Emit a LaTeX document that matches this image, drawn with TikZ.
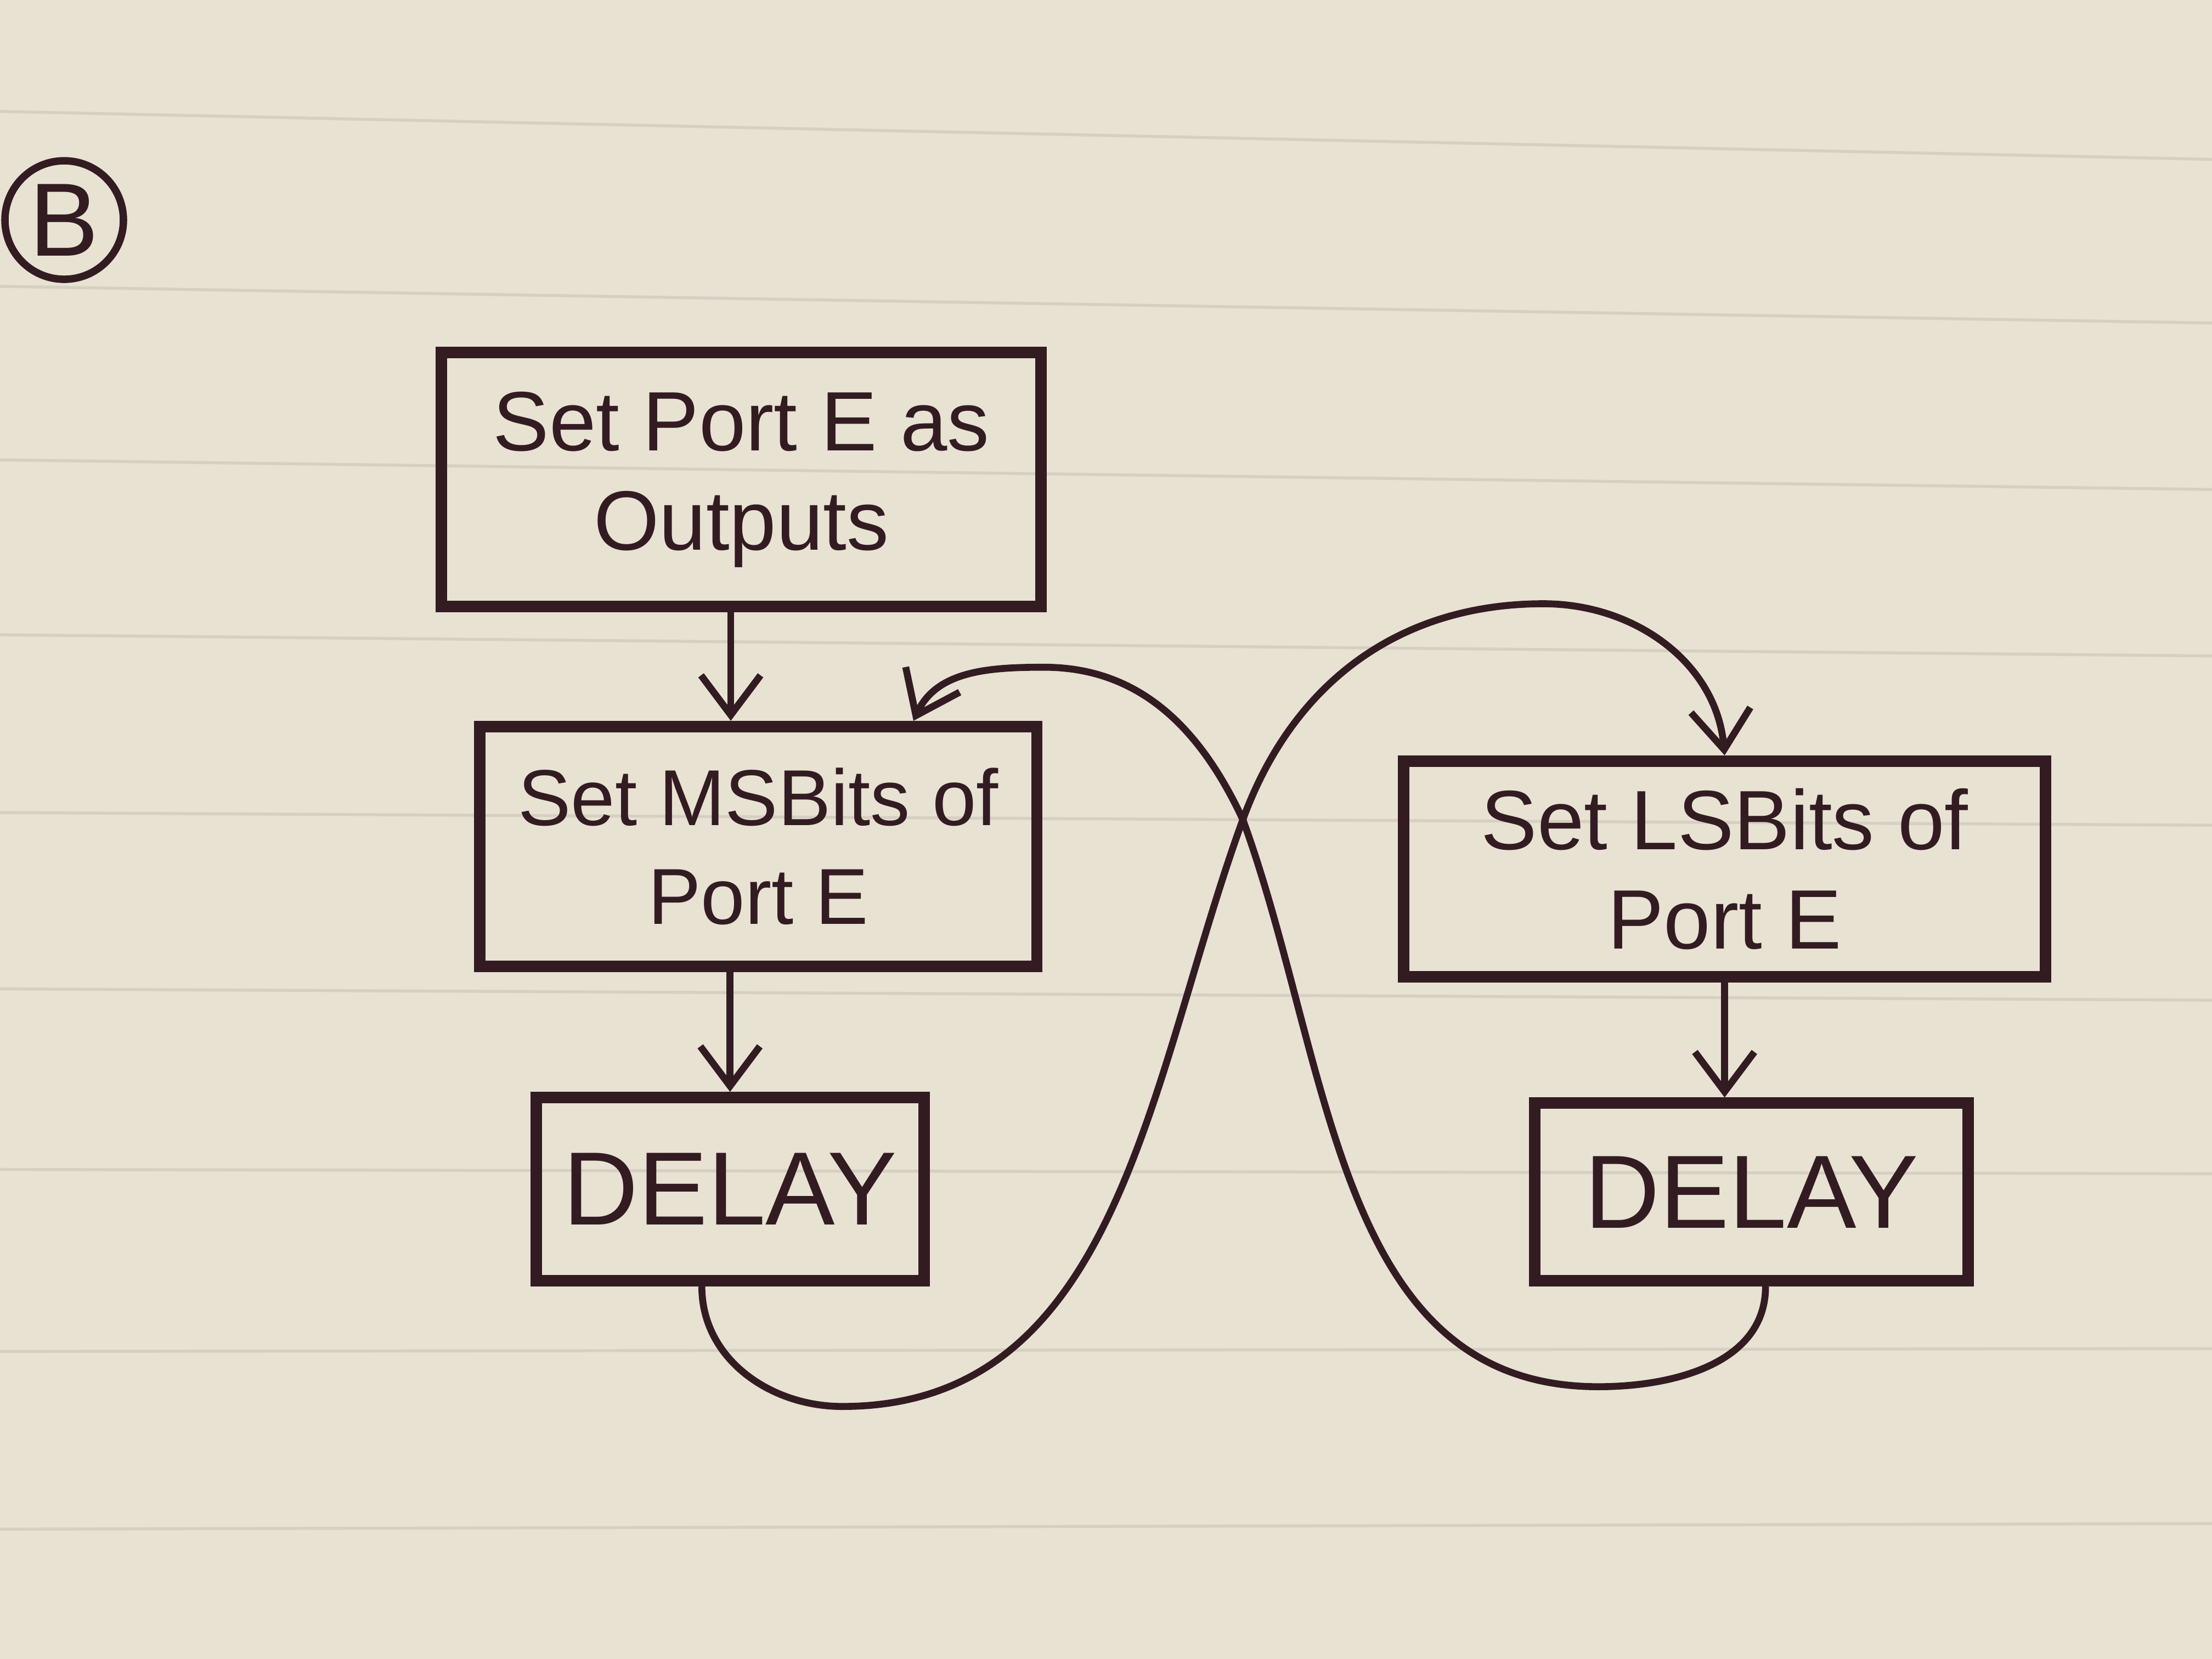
\documentclass[tikz,border=0pt]{standalone}
\usepackage{fontspec}
\setmainfont{Liberation Sans}
\usetikzlibrary{arrows.meta,calc}
\definecolor{paper}{RGB}{232,226,211}
\definecolor{rule}{RGB}{214,207,194}
\definecolor{ink}{RGB}{50,28,34}
\tikzset{
  blk/.style={draw=ink,line width=2.3pt,text=ink,align=center,inner sep=0pt,
    font=\fontsize{17}{20}\selectfont},
  dly/.style={font=\fontsize{21}{24}\selectfont},
  flow/.style={draw=ink,line width=1.4pt,-{Straight Barb[length=8pt,width=12pt]}},
}
\begin{document}
\begin{tikzpicture}
      \fill[paper] (0,0) rectangle (15.68,11.76);
      \useasboundingbox (0,0) rectangle (15.68,11.76);
      % ruled lines of the page
      \foreach \yl/\yr in {10.97/10.63,9.73/9.47,8.50/8.29,7.26/7.11,6.00/5.91,4.75/4.67,3.47/3.44,2.18/2.20,0.92/0.96}
        \draw[rule,line width=.6pt] (0,\yl) -- (15.68,\yr);
      \node[draw=ink,circle,line width=1.5pt,minimum size=.84cm,inner sep=0pt,text=ink,
        font=\fontsize{21}{24}\selectfont] (sec) at (0.455,10.2) {B};
      \node[blk,minimum width=4.25cm,minimum height=1.8cm] (ports) at (5.255,8.36) {Set Port E as\\Outputs};
      \node[blk,minimum width=3.95cm,minimum height=1.7cm,font=\fontsize{16}{20}\selectfont] (msb) at (5.375,5.76) {Set MSBits of\\Port E};
      \node[blk,dly,minimum width=2.75cm,minimum height=1.3cm] (delayA) at (5.175,3.33) {DELAY};
      \node[blk,minimum width=4.55cm,minimum height=1.53cm] (lsb) at (12.225,5.6) {Set LSBits of\\Port E};
      \node[blk,dly,minimum width=3.07cm,minimum height=1.26cm] (delayB) at (12.415,3.31) {DELAY};
      \draw[flow] ([xshift=-.075cm]ports.south) -- ([xshift=-.075cm]ports.south |- msb.north);
      \draw[flow] (delayA.north |- msb.south) -- (delayA.north);
      \draw[flow] (lsb.south) -- (lsb.south |- delayB.north);
      % the two loops cross between the columns
      \coordinate (cross) at (8.81,5.95);
      \draw[flow] ([xshift=-.2cm]delayA.south) to[out=-90,in=180] (5.97,1.79)
        to[out=0,in=-110] (cross) to[out=70,in=180] (10.94,7.48) to[out=0,in=95] (lsb.north);
      \draw[flow] ([xshift=.1cm]delayB.south) to[out=-90,in=0] (11.33,1.93)
        to[out=180,in=-70] (cross) to[out=115,in=0] (7.4,7.03) to[out=180,in=65] ([xshift=1.1cm]msb.north);
\end{tikzpicture}
\end{document}
